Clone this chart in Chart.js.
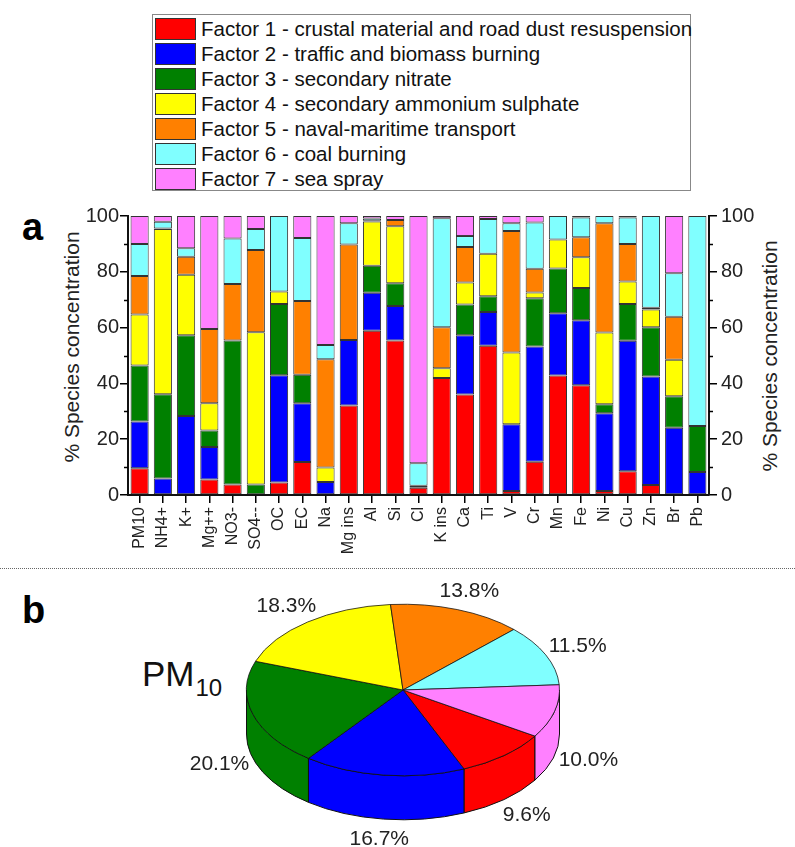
<!DOCTYPE html>
<html><head><meta charset="utf-8">
<script src="https://cdn.jsdelivr.net/npm/chart.js@4.4.1/dist/chart.umd.min.js"></script>
<style>
html,body{margin:0;padding:0;background:#fff}
body{width:795px;height:847px;overflow:hidden;position:relative;font-family:"Liberation Sans",Arial,sans-serif;color:#000}
#legend{position:absolute;left:152px;top:14px;width:537px;height:175px;border:1px solid #888}
.row{position:absolute;left:0;height:25px;display:flex;align-items:center;white-space:nowrap;font-size:20.5px;color:#111}
.sw{width:39px;height:20px;border:1px solid #333;margin:0 5px 0 2px;flex:none}
.panel{position:absolute;font-weight:bold;font-size:38px;line-height:1}
#sep{position:absolute;left:0;top:568px;width:795px;border-top:1px dotted #666}
.ytitle{position:absolute;white-space:nowrap;font-size:21px;color:#222;transform:translate(-50%,-50%) rotate(-90deg)}
#pm{position:absolute;left:142px;top:656px;font-size:35px;line-height:1;white-space:nowrap;color:#111}
#pm span{font-size:24px;position:relative;top:10px;margin-left:1px}
canvas{position:absolute}
</style></head>
<body>
<div id="legend"></div>
<div class="panel" style="left:22px;top:208px">a</div>
<div class="panel" style="left:22px;top:591px">b</div>
<div class="ytitle" style="left:72px;top:347px">% Species concentration</div>
<div class="ytitle" style="left:770px;top:356px">% Species concentration</div>
<div id="sep"></div>
<div id="pm">PM<span>10</span></div>
<canvas id="bar" width="795" height="365" style="left:0;top:195px"></canvas>
<canvas id="pie" width="795" height="317" style="left:0;top:530px"></canvas>
<script>
const species = ["PM10","NH4+","K+","Mg++","NO3-","SO4--","OC","EC","Na","Mg ins","Al","Si","Cl","K ins","Ca","Ti","V","Cr","Mn","Fe","Ni","Cu","Zn","Br","Pb"];
const factorNames = [
  "Factor 1 - crustal material and road dust resuspension",
  "Factor 2 - traffic and biomass burning",
  "Factor 3 - secondary nitrate",
  "Factor 4 - secondary ammonium sulphate",
  "Factor 5 - naval-maritime transport",
  "Factor 6 - coal burning",
  "Factor 7 - sea spray"
];
const factorColors = ["#FF0000","#0000FF","#008000","#FFFF00","#FF8000","#80FFFF","#FF80FF"];
const factor1 = [9.6,0,0,5.6,3.8,0,4.5,11.8,0,32.1,58.9,55.4,2.6,41.9,36.0,53.5,1.4,11.9,42.8,39.3,1.4,8.5,3.6,0,0];
const factor2 = [16.7,5.9,28.3,11.6,0,0,38.4,21.1,4.7,23.5,13.6,12.3,0,0,21.3,12.1,24.0,41.3,22.3,23.3,27.9,46.8,38.9,24.1,8.2];
const factor3 = [20.1,30.2,29.0,5.9,51.6,3.8,25.6,10.2,0,0,9.7,8.2,0,0,11.0,5.6,0,17.3,16.1,11.6,3.2,13.2,17.6,11.3,16.5];
const factor4 = [18.3,59.2,21.6,9.8,0,54.5,4.4,0,5.2,0,15.8,20.4,0,3.5,7.9,15.3,25.7,2.1,10.4,11.0,25.7,8.0,6.4,13.1,0];
const factor5 = [13.8,0.2,6.5,26.6,20.2,29.5,0,26.4,38.8,34.2,0.3,2.3,0.7,14.7,12.7,0,43.5,8.5,0,7.2,39.2,13.5,0.6,15.4,0];
const factor6 = [11.5,2.4,3.0,0,16.3,7.5,27.1,22.6,5.1,7.6,0.8,0,8.1,39.1,3.9,12.4,2.8,16.6,8.4,7.1,2.6,9.5,32.9,15.6,75.3];
const factor7 = [10.0,2.1,11.6,40.5,8.1,4.7,0,7.9,46.2,2.6,0.9,1.4,88.6,0.8,7.2,1.1,2.6,2.3,0,0.5,0,0.5,0,20.5,0];
const factorSeries = [factor1,factor2,factor3,factor4,factor5,factor6,factor7];
const yTicks = [0,20,40,60,80,100];
const pm10Shares = [9.6,16.7,20.1,18.3,13.8,11.5,10.0];

const FONT = "'Liberation Sans', Arial, sans-serif";

// legend
const lg = document.getElementById('legend');
factorNames.forEach((n,i)=>{
  const r = document.createElement('div');
  r.className='row'; r.style.top=(1+i*25)+'px';
  const s = document.createElement('div'); s.className='sw'; s.style.background=factorColors[i];
  const t = document.createElement('span'); t.textContent=n;
  r.appendChild(s); r.appendChild(t); lg.appendChild(r);
});

const minorTicks = {
  id:'minorTicks',
  afterDraw(chart){
    const ctx=chart.ctx;
    ctx.save(); ctx.strokeStyle='#000'; ctx.lineWidth=1.5;
    ['y','y2'].forEach(id=>{
      const sc=chart.scales[id];
      for(let v=10; v<100; v+=20){
        const y=Math.round(sc.getPixelForValue(v))+0.5;
        ctx.beginPath();
        if(id==='y'){ctx.moveTo(sc.right-4,y);ctx.lineTo(sc.right,y);}
        else {ctx.moveTo(sc.left,y);ctx.lineTo(sc.left+4,y);}
        ctx.stroke();
      }
    });
    ctx.restore();
  }
};

const yAxisCommon = {
  min:0, max:100,
  grid:{drawOnChartArea:false, drawTicks:true, tickLength:8, color:'#000', lineWidth:1.5},
  border:{display:true, color:'#111', width:2},
  afterBuildTicks(sc){ sc.ticks = yTicks.map(v=>({value:v})); },
  ticks:{color:'#222', font:{size:20, family:FONT}, padding:1}
};

new Chart(document.getElementById('bar'), {
  type:'bar',
  data:{
    labels:species,
    datasets:factorSeries.map((d,i)=>({
      label:factorNames[i], data:d, backgroundColor:factorColors[i],
      borderColor:'#333', borderWidth:1, borderSkipped:false,
      barPercentage:0.78, categoryPercentage:1, yAxisID:'y'
    }))
  },
  options:{
    responsive:false, animation:false, events:[],
    layout:{padding:{top:21,left:0,right:0,bottom:0}},
    plugins:{legend:{display:false}, tooltip:{enabled:false}},
    scales:{
      x:{stacked:true,
        grid:{drawOnChartArea:false, drawTicks:true, tickLength:8, color:'#000', lineWidth:1.5, offset:false},
        border:{display:true, color:'#111', width:2},
        ticks:{autoSkip:false, maxRotation:90, minRotation:90, color:'#222', font:{size:16, family:FONT}, padding:4},
        afterFit(sc){ sc.height=65; }
      },
      y:Object.assign({}, yAxisCommon, {stacked:true, position:'left', afterFit(sc){ sc.width=128; }}),
      y2:Object.assign({}, yAxisCommon, {position:'right', ticks:{color:'#222', font:{size:20, family:FONT}, padding:4}, afterFit(sc){ sc.width=86; }})
    }
  },
  plugins:[minorTicks]
});

// 3D pie
const TILT = 0.548, DEPTH = 44;
const pie3d = {
  id:'pie3d',
  beforeDatasetsDraw(chart){
    const ctx=chart.ctx, arcs=chart.getDatasetMeta(0).data;
    const cx=arcs[0].x, cy=arcs[0].y, r=arcs[0].outerRadius, ry=r*TILT;
    ctx.save();
    ctx.lineWidth=1; ctx.strokeStyle='#111'; ctx.lineJoin='round';
    arcs.forEach(a=>{
      const s=a.startAngle, e=a.endAngle;
      for(let k=-1;k<=1;k++){
        const lo=Math.max(s,2*Math.PI*k), hi=Math.min(e,2*Math.PI*k+Math.PI);
        if(hi>lo){
          ctx.beginPath();
          ctx.ellipse(cx,cy,r,ry,0,lo,hi);
          ctx.lineTo(cx+r*Math.cos(hi), cy+DEPTH+ry*Math.sin(hi));
          ctx.ellipse(cx,cy+DEPTH,r,ry,0,hi,lo,true);
          ctx.closePath();
          ctx.fillStyle=a.options.backgroundColor; ctx.fill(); ctx.stroke();
        }
      }
    });
    ctx.restore();
    ctx.save();
    ctx.translate(cx,cy); ctx.scale(1,TILT); ctx.translate(-cx,-cy);
  },
  afterDatasetsDraw(chart){
    const ctx=chart.ctx;
    ctx.restore();
    const arcs=chart.getDatasetMeta(0).data;
    const vals=chart.data.datasets[0].data;
    ctx.save();
    ctx.font='21px '+FONT; ctx.fillStyle='#222'; ctx.textAlign='center'; ctx.textBaseline='middle';
    arcs.forEach((a,i)=>{
      const m=(a.startAngle+a.endAngle)/2, c=Math.cos(m), s=Math.sin(m);
      const r=a.outerRadius, ry=r*TILT;
      const x=a.x+(r+35)*c, y=a.y+(ry+20)*s+(s>0?DEPTH:0);
      ctx.fillText(vals[i].toFixed(1)+'%', x, y);
    });
    ctx.restore();
  }
};

new Chart(document.getElementById('pie'), {
  type:'pie',
  data:{labels:factorNames, datasets:[{data:pm10Shares, backgroundColor:factorColors, borderColor:'#111', borderWidth:1}]},
  options:{
    responsive:false, animation:false, events:[], rotation:122.5,
    layout:{padding:{top:3,left:246,right:235,bottom:0}},
    plugins:{legend:{display:false}, tooltip:{enabled:false}}
  },
  plugins:[pie3d]
});
</script>
</body></html>
